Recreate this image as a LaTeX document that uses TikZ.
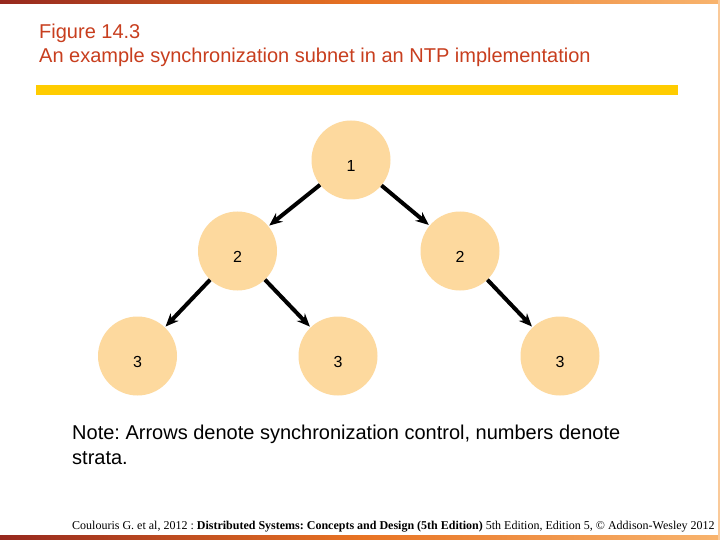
\documentclass[tikz,border=0pt]{standalone}
\usepackage{fontspec}
\setmainfont{Liberation Sans}
\newfontfamily\timesf{Liberation Serif}
\usetikzlibrary{arrows.meta}
\frenchspacing
\definecolor{titlered}{RGB}{200,62,30}
\definecolor{baryellow}{RGB}{255,204,0}
\definecolor{peach}{RGB}{253,217,158}
\definecolor{bardark}{RGB}{150,40,30}
\definecolor{barmid}{RGB}{232,115,35}
\definecolor{barlight}{RGB}{248,180,110}
\begin{document}
\begin{tikzpicture}[x=1pt,y=-1pt,
  strat/.style={circle,fill=peach,minimum size=79pt,inner sep=0pt},
  lbl/.style={font=\fontsize{16}{18}\selectfont,inner sep=0pt},
  ctl/.style={line width=4pt,-{Stealth[length=13pt,width=11pt]},shorten >=1pt,shorten <=0pt},
  ttl/.style={anchor=base west,inner sep=0pt,text=titlered,font=\fontsize{20}{22}\selectfont},
  note/.style={anchor=base west,inner sep=0pt,font=\fontsize{20}{22}\selectfont}]
\useasboundingbox (0,0) rectangle (720,540);
\fill[white] (0,0) rectangle (720,540);
% gradient bars
\shade[left color=bardark,right color=barlight,middle color=barmid] (0,0) rectangle (720,4);
\shade[left color=bardark,right color=barlight,middle color=barmid] (0,535) rectangle (720,540);
\fill[barlight!70] (718,0) rectangle (720,540);
% title
\node[ttl] (t1) at (39,39) {Figure 14.3};
\node[ttl] (t2) at (39,63) {An example synchronization subnet in an NTP implementation};
\fill[baryellow] (36,85) rectangle (678,95);
% nodes
\node[strat] (n1) at (351,160) {};
\node[strat] (a2) at (237.5,251) {};
\node[strat] (b2) at (460,251) {};
\node[strat] (a3) at (137.5,356) {};
\node[strat] (b3) at (338,356) {};
\node[strat] (c3) at (560,356) {};
\node[lbl] (l1) at ([yshift=-6pt]n1.center) {1};
\node[lbl] (l2a) at ([yshift=-6pt]a2.center) {2};
\node[lbl] (l2b) at ([yshift=-6pt]b2.center) {2};
\node[lbl] (l3a) at ([yshift=-6pt]a3.center) {3};
\node[lbl] (l3b) at ([yshift=-6pt]b3.center) {3};
\node[lbl] (l3c) at ([yshift=-6pt]c3.center) {3};
% arrows
\draw[ctl] (n1) -- (a2);
\draw[ctl] (n1) -- (b2);
\draw[ctl] (a2) -- (a3);
\draw[ctl] (a2) -- (b3);
\draw[ctl] (b2) -- (c3);
% note
\node[note] (nt1) at (72,439) {Note: Arrows denote synchronization control, numbers denote};
\node[note] (nt2) at (72,464) {strata.};
% footer
\node[anchor=base west,inner sep=0pt,font=\timesf\fontsize{12}{14}\selectfont] (ft) at (72,529)
  {Coulouris G. et al, 2012 : \textbf{Distributed Systems: Concepts and Design (5th Edition)} 5th Edition, Edition 5, © Addison-Wesley 2012};
\end{tikzpicture}
\end{document}
